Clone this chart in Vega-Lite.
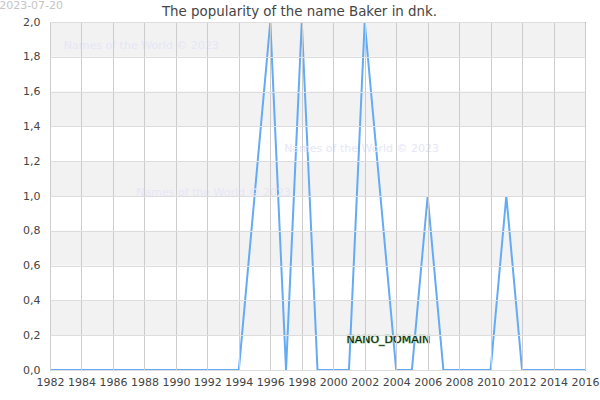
{
  "$schema": "https://vega.github.io/schema/vega-lite/v6.json",
  "width": 535,
  "height": 348,
  "autosize": {"type": "none"},
  "padding": {"left": 50, "top": 22, "right": 15, "bottom": 30},
  "title": {"text": "The popularity of the name Baker in dnk.", "font": "DejaVu Sans", "fontSize": 13.4, "fontWeight": "normal", "color": "#444", "offset": 0, "dy": 18, "dx": -18, "anchor": "middle", "frame": "group"},
  "config": {
    "locale": {"number": {"decimal": ",", "thousands": ".", "grouping": [3], "currency": ["", " kr"]}},
    "view": {"stroke": "#000", "strokeWidth": 1},
    "font": "DejaVu Sans"
  },
  "datasets": {
    "pop": [
      {"year": 1982, "value": 0}, {"year": 1983, "value": 0}, {"year": 1984, "value": 0},
      {"year": 1985, "value": 0}, {"year": 1986, "value": 0}, {"year": 1987, "value": 0},
      {"year": 1988, "value": 0}, {"year": 1989, "value": 0}, {"year": 1990, "value": 0},
      {"year": 1991, "value": 0}, {"year": 1992, "value": 0}, {"year": 1993, "value": 0},
      {"year": 1994, "value": 0}, {"year": 1995, "value": 1}, {"year": 1996, "value": 2},
      {"year": 1997, "value": 0}, {"year": 1998, "value": 2}, {"year": 1999, "value": 0},
      {"year": 2000, "value": 0}, {"year": 2001, "value": 0}, {"year": 2002, "value": 2},
      {"year": 2003, "value": 1}, {"year": 2004, "value": 0}, {"year": 2005, "value": 0},
      {"year": 2006, "value": 1}, {"year": 2007, "value": 0}, {"year": 2008, "value": 0},
      {"year": 2009, "value": 0}, {"year": 2010, "value": 0}, {"year": 2011, "value": 1},
      {"year": 2012, "value": 0}, {"year": 2013, "value": 0}, {"year": 2014, "value": 0},
      {"year": 2015, "value": 0}, {"year": 2016, "value": 0}
    ],
    "bands": [
      {"lo": 0.2, "hi": 0.4}, {"lo": 0.6, "hi": 0.8}, {"lo": 1.0, "hi": 1.2},
      {"lo": 1.4, "hi": 1.6}, {"lo": 1.8, "hi": 2.0}
    ],
    "marks": [
      {"year": 1987.8, "value": 1.862, "label": "Names of the World © 2023"},
      {"year": 2001.8, "value": 1.27, "label": "Names of the World © 2023"},
      {"year": 1992.4, "value": 1.017, "label": "Names of the World © 2023"}
    ],
    "nano": [{"year": 2003.5, "value": 0.172, "label": "NANO_DOMAIN"}],
    "date": [{"year": 1980.8, "value": 2.126, "label": "2023-07-20"}]
  },
  "layer": [
    {
      "data": {"name": "bands"},
      "mark": {"type": "rect", "color": "#f2f2f2"},
      "encoding": {
        "y": {"field": "lo", "type": "quantitative", "scale": {"domain": [0, 2], "nice": false},
          "axis": {"title": null, "values": [0,0.2,0.4,0.6,0.8,1.0,1.2,1.4,1.6,1.8,2.0], "tickCount": 20, "format": ".1f", "domain": false, "ticks": false, "labelPadding": 10, "labelFontSize": 11, "labelColor": "#444", "gridColor": "#dddddd", "labelOverlap": false, "labelFlush": false, "labelBound": false, "zindex": 1}},
        "y2": {"field": "hi"}
      }
    },
    {
      "data": {"name": "pop"},
      "mark": {"type": "line", "color": "#63abf4", "strokeWidth": 2},
      "encoding": {
        "x": {"field": "year", "type": "quantitative", "scale": {"domain": [1982, 2016], "nice": false, "zero": false},
          "axis": {"title": null, "values": [1982,1984,1986,1988,1990,1992,1994,1996,1998,2000,2002,2004,2006,2008,2010,2012,2014,2016], "tickCount": 30, "format": "d", "domain": false, "ticks": false, "labelPadding": 6, "labelFontSize": 11, "labelColor": "#444", "gridColor": "#cccccc", "gridWidth": 1, "labelOverlap": false, "labelFlush": false, "labelBound": false, "zindex": 1}},
        "y": {"field": "value", "type": "quantitative"}
      }
    },
    {
      "data": {"name": "marks"},
      "mark": {"type": "text", "color": "#e6e6f7", "fontSize": 11, "align": "center", "baseline": "middle"},
      "encoding": {
        "x": {"field": "year", "type": "quantitative"},
        "y": {"field": "value", "type": "quantitative"},
        "text": {"field": "label"}
      }
    },
    {
      "data": {"name": "nano"},
      "mark": {"type": "text", "color": "#a8d4a8", "stroke": "#a8d4a8", "strokeWidth": 1.2, "fontSize": 11, "align": "center", "baseline": "middle"},
      "encoding": {
        "x": {"field": "year", "type": "quantitative"},
        "y": {"field": "value", "type": "quantitative"},
        "text": {"field": "label"}
      }
    },
    {
      "data": {"name": "nano"},
      "mark": {"type": "text", "color": "#102010", "fontSize": 11, "align": "center", "baseline": "middle"},
      "encoding": {
        "x": {"field": "year", "type": "quantitative"},
        "y": {"field": "value", "type": "quantitative"},
        "text": {"field": "label"}
      }
    },
    {
      "data": {"name": "date"},
      "mark": {"type": "text", "color": "#c4c4c4", "fontSize": 11, "align": "center", "baseline": "top", "clip": false},
      "encoding": {
        "x": {"field": "year", "type": "quantitative"},
        "y": {"field": "value", "type": "quantitative"},
        "text": {"field": "label"}
      }
    }
  ]
}
